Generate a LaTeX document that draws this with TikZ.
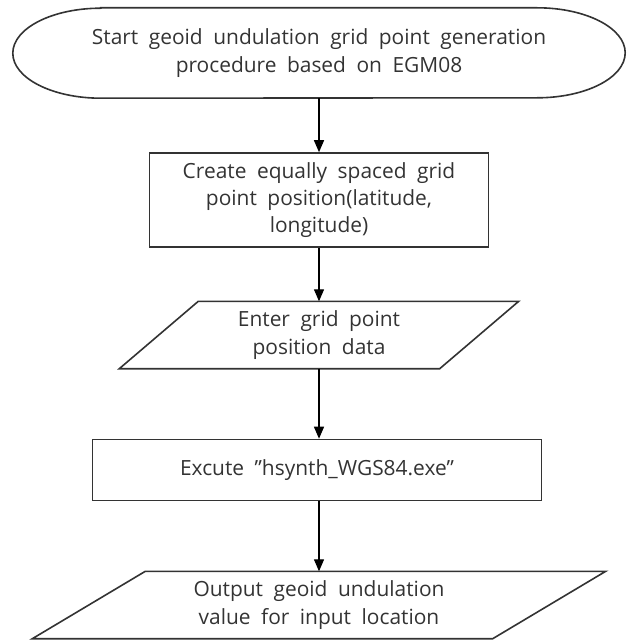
\documentclass[tikz,border=0pt]{standalone}
\usepackage{fontspec}
\setmainfont{Open Sans}
\usetikzlibrary{arrows.meta}
\newcommand\flowfont{\fontsize{21}{27.5}\selectfont\spaceskip=10.5bp plus 2bp\relax}

\begin{document}
\begin{tikzpicture}[x=1bp,y=1bp,
  line/.style = {draw=black!80, line width=1.6bp},
  txt/.style = {align=center, text=black!80, font=\flowfont, inner sep=0pt},
  proc/.style = {txt, line},
  flow/.style = {draw=black, line width=1.3bp, -{Triangle[length=12bp,width=10bp]}},
  node distance={135bp}]
\useasboundingbox (0,0) rectangle (631,-643);
\node[txt, minimum width=612bp, minimum height=90bp] (start) at (319,-53) {Start geoid undulation grid point generation\\procedure based on EGM08};
\node[proc, minimum width=339bp, minimum height=94bp] (create) [below of=start, node distance=147bp] {Create equally spaced grid\\point position(latitude,\\longitude)};
\node[txt, minimum width=320bp, minimum height=67bp] (enter) [below of=create] {Enter grid point\\position data};
\node[proc, minimum width=449bp, minimum height=61bp, xshift=-2bp] (excute) [below of=enter] {Excute {\char34}hsynth\_WGS84.exe{\char34}};
\node[txt, minimum width=460bp, minimum height=67bp, xshift=2bp] (output) [below of=excute] {Output geoid undulation\\value for input location};
% terminal outline
\draw[line] ([xshift=88bp]start.north west) -- ([xshift=-88bp]start.north east)
  arc[start angle=90, end angle=-90, x radius=88bp, y radius=45bp]
  -- ([xshift=88bp]start.south west)
  arc[start angle=270, end angle=90, x radius=88bp, y radius=45bp] -- cycle;
% input / output shapes
\draw[line] ([xshift=-39.5bp]enter.south west) -- ([xshift=39.5bp]enter.north west)
  -- ([xshift=39.5bp]enter.north east) -- ([xshift=-39.5bp]enter.south east) -- cycle;
\draw[line] ([xshift=-56.5bp]output.south west) -- ([xshift=56.5bp]output.north west)
  -- ([xshift=56.5bp]output.north east) -- ([xshift=-56.5bp]output.south east) -- cycle;
\draw[flow] (start) -- (create);
\draw[flow] (create) -- (enter);
\draw[flow] (enter) -- (excute.north -| enter);
\draw[flow] (excute.south -| enter) -- (output.north -| enter);
\end{tikzpicture}
\end{document}
